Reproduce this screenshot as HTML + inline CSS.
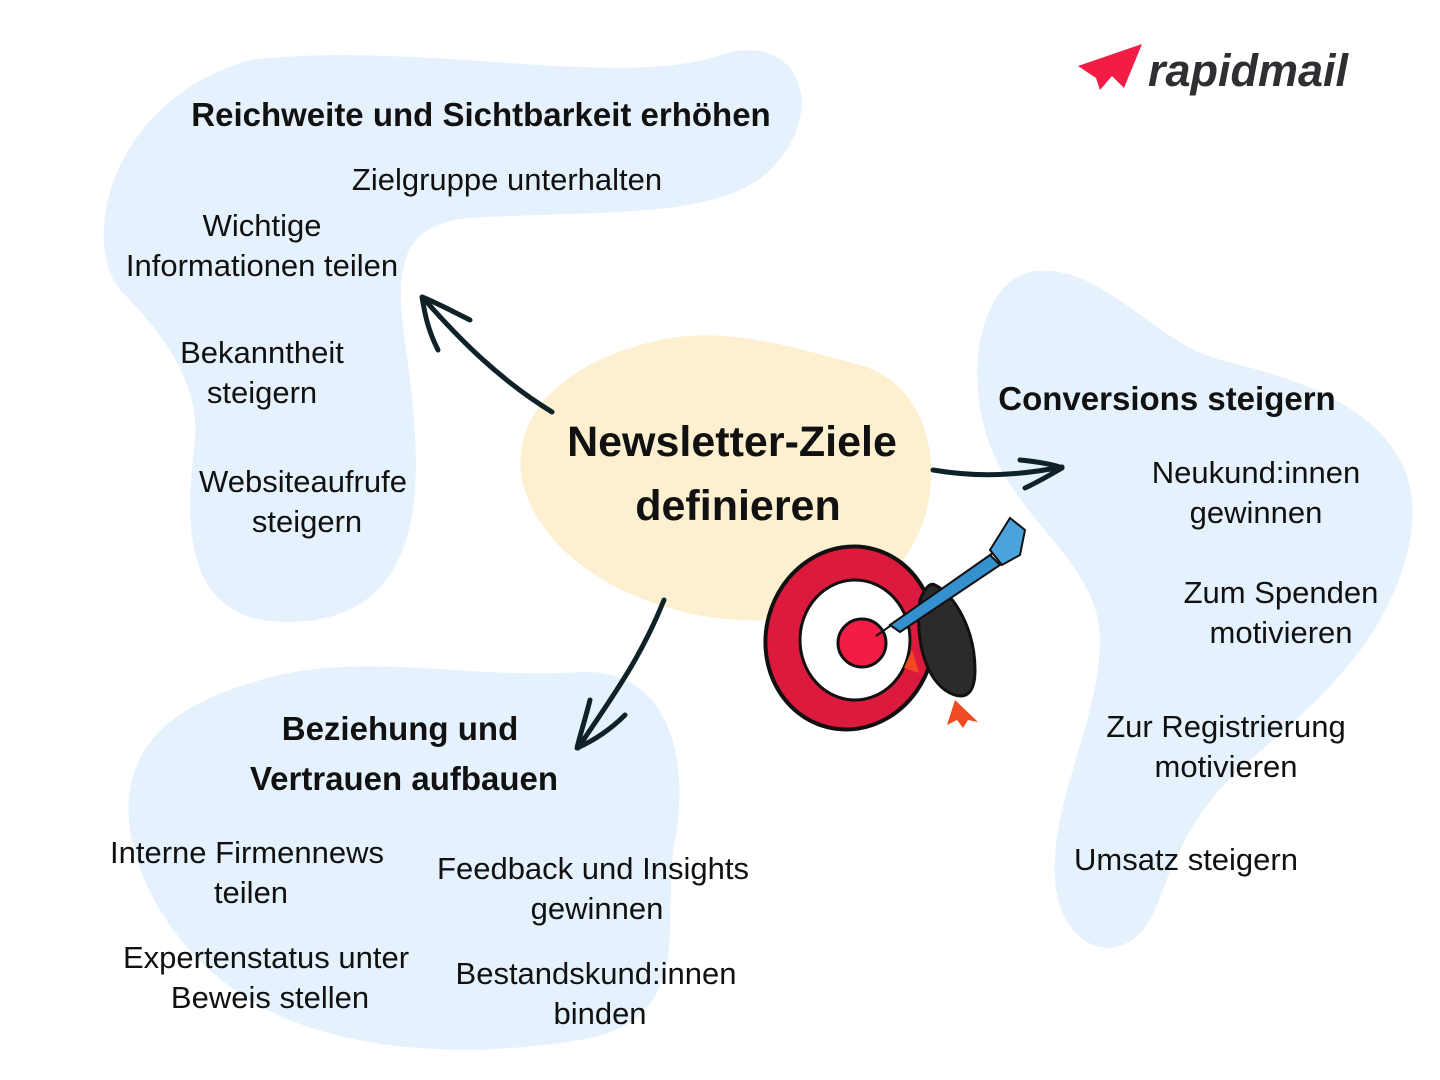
<!DOCTYPE html>
<html><head><meta charset="utf-8"><style>
html,body{margin:0;padding:0;background:#fff}
svg{display:block}
text{font-family:"Liberation Sans",sans-serif;fill:#111}
.r{font-size:31px;text-anchor:middle}
.b{font-size:33px;font-weight:bold;text-anchor:middle}
</style></head><body>
<svg width="1440" height="1080" viewBox="0 0 1440 1080" xmlns="http://www.w3.org/2000/svg">
<path fill="#e5f2fd" d="M250 60 C420 40 620 90 720 55 C800 30 830 110 770 170 C720 220 600 210 470 218 C380 225 400 300 410 380 C425 500 420 620 290 622 C180 624 185 520 195 440 C200 380 160 330 120 290 C80 240 110 100 250 60 Z"/>
<path fill="#e5f2fd" d="M1030 272 C1100 260 1150 340 1220 360 C1330 385 1430 430 1410 540 C1390 640 1320 700 1250 760 C1180 820 1170 880 1150 920 C1120 970 1060 950 1055 880 C1050 800 1100 720 1100 640 C1100 560 1010 520 985 430 C965 360 985 282 1030 272 Z"/>
<path fill="#e5f2fd" d="M260 680 C360 650 470 680 580 672 C670 668 690 760 675 840 C660 920 700 1020 580 1040 C460 1060 330 1050 250 1000 C160 945 120 850 130 790 C140 730 190 700 260 680 Z"/>
<path fill="#fdf0d1" d="M640 345 C720 320 800 350 860 365 C930 385 945 470 920 530 C895 590 830 625 740 620 C640 615 540 560 522 480 C510 410 570 365 640 345 Z"/>
<g fill="none" stroke="#0e2227" stroke-width="5" stroke-linecap="round" stroke-linejoin="round">
<path d="M552 412 C500 380 460 340 425 300"/>
<path d="M470 320 C450 310 435 302 422 297 C425 315 428 330 438 350"/>
<path d="M933 470 C980 478 1020 475 1062 467"/>
<path d="M1020 460 C1040 462 1055 465 1062 468 C1050 475 1038 482 1025 488"/>
<path d="M664 600 C640 660 610 700 578 748"/>
<path d="M590 700 C585 720 580 735 577 748 C595 740 610 730 625 715"/>
</g>
<g>
<ellipse cx="850" cy="638" rx="84" ry="92" fill="#dc1a3d" stroke="#111" stroke-width="4" transform="rotate(15 850 638)"/>
<ellipse cx="855" cy="640" rx="55" ry="60" fill="#fff" stroke="#111" stroke-width="3"/>
<circle cx="862" cy="643" r="24" fill="#f21d45" stroke="#111" stroke-width="3"/>
<path d="M935 585 C955 595 975 630 975 670 C975 700 960 700 945 690 C925 675 915 640 920 600 C925 588 930 582 935 585 Z" fill="#2b2b2b" stroke="#111" stroke-width="3"/>
<path d="M955 700 l-8 25 l10 -5 l6 8 l5 -8 l10 2 z" fill="#f04a23"/>
<path d="M912 650 l-8 18 l15 5 z" fill="#f04a23"/>
<line x1="876" y1="636" x2="1000" y2="548" stroke="#111" stroke-width="2"/>
<path d="M890 625 L990 555 L1000 565 L900 632 Z" fill="#3590ce" stroke="#111" stroke-width="2"/>
<path d="M990 550 L1010 518 L1025 530 L1020 555 L1002 565 Z" fill="#4ba3dc" stroke="#111" stroke-width="2"/>
</g>
<path d="M1078 66 L1142 44 L1124 88 L1112 76 L1100 90 L1096 78 Z" fill="#f21d45"/>
<text x="1148" y="86" style="font-size:45px;font-weight:bold;font-style:italic;fill:#2f2f33">rapidmail</text>
<text class="b" x="481" y="126">Reichweite und Sichtbarkeit erhöhen</text>
<text class="r" x="507" y="190">Zielgruppe unterhalten</text>
<text class="r" x="262" y="236">Wichtige</text>
<text class="r" x="262" y="276">Informationen teilen</text>
<text class="r" x="262" y="363">Bekanntheit</text>
<text class="r" x="262" y="403">steigern</text>
<text class="r" x="303" y="492">Websiteaufrufe</text>
<text class="r" x="307" y="532">steigern</text>
<text class="b" x="732" y="456" style="font-size:43px">Newsletter-Ziele</text>
<text class="b" x="738" y="520" style="font-size:43px">definieren</text>
<text class="b" x="1167" y="410">Conversions steigern</text>
<text class="r" x="1256" y="483">Neukund:innen</text>
<text class="r" x="1256" y="523">gewinnen</text>
<text class="r" x="1281" y="603">Zum Spenden</text>
<text class="r" x="1281" y="643">motivieren</text>
<text class="r" x="1226" y="737">Zur Registrierung</text>
<text class="r" x="1226" y="777">motivieren</text>
<text class="r" x="1186" y="870">Umsatz steigern</text>
<text class="b" x="400" y="740">Beziehung und</text>
<text class="b" x="404" y="790">Vertrauen aufbauen</text>
<text class="r" x="247" y="863">Interne Firmennews</text>
<text class="r" x="251" y="903">teilen</text>
<text class="r" x="593" y="879">Feedback und Insights</text>
<text class="r" x="597" y="919">gewinnen</text>
<text class="r" x="266" y="968">Expertenstatus unter</text>
<text class="r" x="270" y="1008">Beweis stellen</text>
<text class="r" x="596" y="984">Bestandskund:innen</text>
<text class="r" x="600" y="1024">binden</text>
</svg>
</body></html>
